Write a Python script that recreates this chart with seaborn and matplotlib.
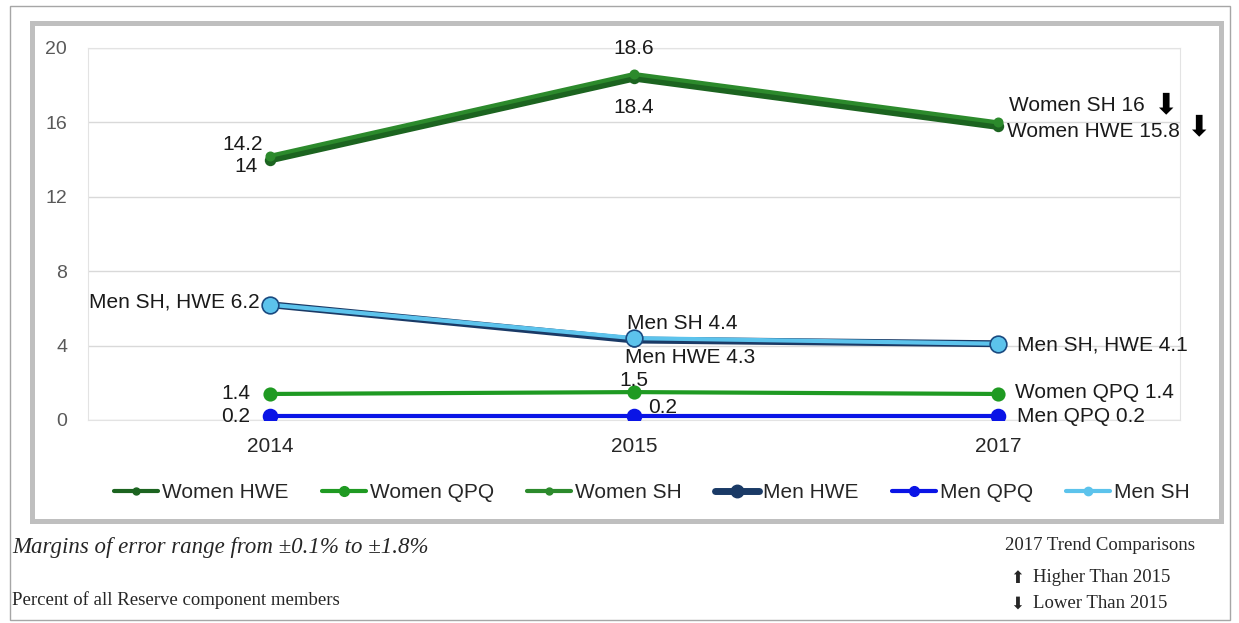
import matplotlib
matplotlib.use("Agg")
import matplotlib.pyplot as plt
import matplotlib.patches as patches
from matplotlib.lines import Line2D
import seaborn as sns
import pandas as pd

# data
years = ["2014", "2015", "2017"]
women_hwe = [14.0, 18.4, 15.8]
women_qpq = [1.4, 1.5, 1.4]
women_sh = [14.2, 18.6, 16.0]
men_hwe = [6.2, 4.3, 4.1]
men_qpq = [0.2, 0.2, 0.2]
men_sh = [6.2, 4.4, 4.1]
series_names = ["Women HWE", "Women QPQ", "Women SH", "Men HWE", "Men QPQ", "Men SH"]
y_ticks = [0, 4, 8, 12, 16, 20]

sns.set_style("white")
plt.rcParams["font.family"] = ["Liberation Sans", "DejaVu Sans"]

W, H = 1239, 623
fig = plt.figure(figsize=(W / 100, H / 100), dpi=100)
ax = fig.add_axes([88 / W, 1 - 420 / H, (1180 - 88) / W, (420 - 48) / H])

df = pd.DataFrame({
    "year": years * 6,
    "value": women_hwe + women_qpq + women_sh + men_hwe + men_qpq + men_sh,
    "series": [s for s in series_names for _ in years],
})

styles = {
    "Women HWE": dict(color="#1c6420", lw=5.5, ms=7, mec="#1c6420", leg_lw=3, leg_ms=5),
    "Women QPQ": dict(color="#1f9a22", lw=3, ms=9, mec="#1f9a22", leg_lw=3, leg_ms=7),
    "Women SH": dict(color="#2c8a2c", lw=3, ms=6, mec="#2c8a2c", leg_lw=3, leg_ms=5),
    "Men HWE": dict(color="#1a3a66", lw=5, ms=9, mec="#1a3a66", leg_lw=5, leg_ms=9),
    "Men QPQ": dict(color="#0a14e6", lw=3, ms=10, mec="#0a14e6", leg_lw=3, leg_ms=7),
    "Men SH": dict(color="#5cc3ec", lw=3, ms=12, mec="#1a4a80", leg_lw=3, leg_ms=6),
}

for name in series_names:
    st = styles[name]
    sub = df[df["series"] == name]
    sns.lineplot(data=sub, x="year", y="value", ax=ax, color=st["color"], lw=st["lw"],
                 marker="o", markersize=st["ms"], markeredgecolor=st["mec"],
                 markeredgewidth=1.2, label=name, legend=False, zorder=3)

ax.set_xlim(-0.5, 2.5)
ax.set_ylim(0, 20)
ax.set_yticks(y_ticks)
ax.set_xlabel("")
ax.set_ylabel("")
ax.grid(axis="y", color="#d9d9d9", lw=1)
ax.grid(axis="x", visible=False)
ax.tick_params(axis="y", labelsize=14, labelcolor="#595959", length=0, pad=15)
ax.tick_params(axis="x", labelsize=15, labelcolor="#262626", length=0, pad=12)
for sp in ax.spines.values():
    sp.set_color("#e3e3e3")
    sp.set_linewidth(0.8)

# data labels: (text, x index, value, dx px, dy px, ha)
labels = [
    ("14.2", 0, women_sh[0], -27, 11, "center"),
    ("14", 0, women_hwe[0], -24, -7, "center"),
    ("18.6", 1, women_sh[1], 0, 26, "center"),
    ("18.4", 1, women_hwe[1], 0, -30, "center"),
    ("Women SH 16", 2, women_sh[2], 11, 17, "left"),
    ("Women HWE 15.8", 2, women_hwe[2], 9, -5, "left"),
    ("Men SH, HWE 6.2", 0, men_sh[0], -10, 3, "right"),
    ("Men SH 4.4", 1, men_sh[1], -7, 15, "left"),
    ("Men HWE 4.3", 1, men_hwe[1], -9, -17, "left"),
    ("Men SH, HWE 4.1", 2, men_sh[2], 19, -1, "left"),
    ("1.4", 0, women_qpq[0], -20, 0, "right"),
    ("0.2", 0, men_qpq[0], -20, 0, "right"),
    ("1.5", 1, women_qpq[1], 0, 12, "center"),
    ("0.2", 1, men_qpq[1], 29, 9, "center"),
    ("Women QPQ 1.4", 2, women_qpq[2], 17, 1, "left"),
    ("Men QPQ 0.2", 2, men_qpq[2], 19, 0, "left"),
]
for txt, xi, v, dx, dy, ha in labels:
    ax.annotate(txt, xy=(xi, v), xytext=(dx * 0.72, dy * 0.72), textcoords="offset points",
                ha=ha, va="center", fontsize=15, color="#1a1a1a", zorder=5,
                annotation_clip=False)

# trend arrows next to the 2017 women labels
for xi, v, dx, dy in [(2, women_sh[2], 167, 17), (2, women_hwe[2], 200, -1)]:
    ax.annotate("\u2b07", xy=(xi, v), xytext=(dx * 0.72, dy * 0.72), textcoords="offset points",
                ha="center", va="center", fontsize=21, color="black",
                family=["DejaVu Sans"], annotation_clip=False)

handles = [Line2D([], [], color=styles[n]["color"], lw=styles[n]["leg_lw"], marker="o",
                  markersize=styles[n]["leg_ms"], markeredgecolor=styles[n]["color"])
           for n in series_names]
fig.legend(handles, series_names, loc="center", bbox_to_anchor=(652 / W, 1 - 493 / H), ncol=6,
           frameon=False, fontsize=15, handlelength=2.1, handletextpad=0.2,
           columnspacing=1.6)

# frames
fig.patches.append(patches.Rectangle((10 / W, 1 - 620 / H), 1220 / W, 614 / H,
                                     transform=fig.transFigure, fill=False,
                                     ec="#a6a6a6", lw=1, zorder=0))
fig.patches.append(patches.Rectangle((32 / W, 1 - 521 / H), 1189 / W, 498 / H,
                                     transform=fig.transFigure, fill=False,
                                     ec="#bfbfbf", lw=3.6, zorder=0))

serif = ["Liberation Serif", "DejaVu Serif"]
fig.text(12 / W, 1 - 548 / H, "Margins of error range from \u00b10.1% to \u00b11.8%",
         family=serif, style="italic", fontsize=16.5, va="center", ha="left")
fig.text(12 / W, 1 - 600 / H, "Percent of all Reserve component members",
         family=serif, fontsize=13.5, va="center", ha="left")
fig.text(1005 / W, 1 - 545 / H, "2017 Trend Comparisons", family=serif, fontsize=13.5,
         va="center", ha="left")
fig.text(1010 / W, 1 - 578 / H, "\u2b06", family=["DejaVu Sans"], fontsize=12,
         va="center", ha="left")
fig.text(1033 / W, 1 - 578 / H, "Higher Than 2015", family=serif, fontsize=13.5,
         va="center", ha="left")
fig.text(1010 / W, 1 - 604 / H, "\u2b07", family=["DejaVu Sans"], fontsize=12,
         va="center", ha="left")
fig.text(1033 / W, 1 - 604 / H, "Lower Than 2015", family=serif, fontsize=13.5,
         va="center", ha="left")

fig.savefig("out.png", dpi=100)
